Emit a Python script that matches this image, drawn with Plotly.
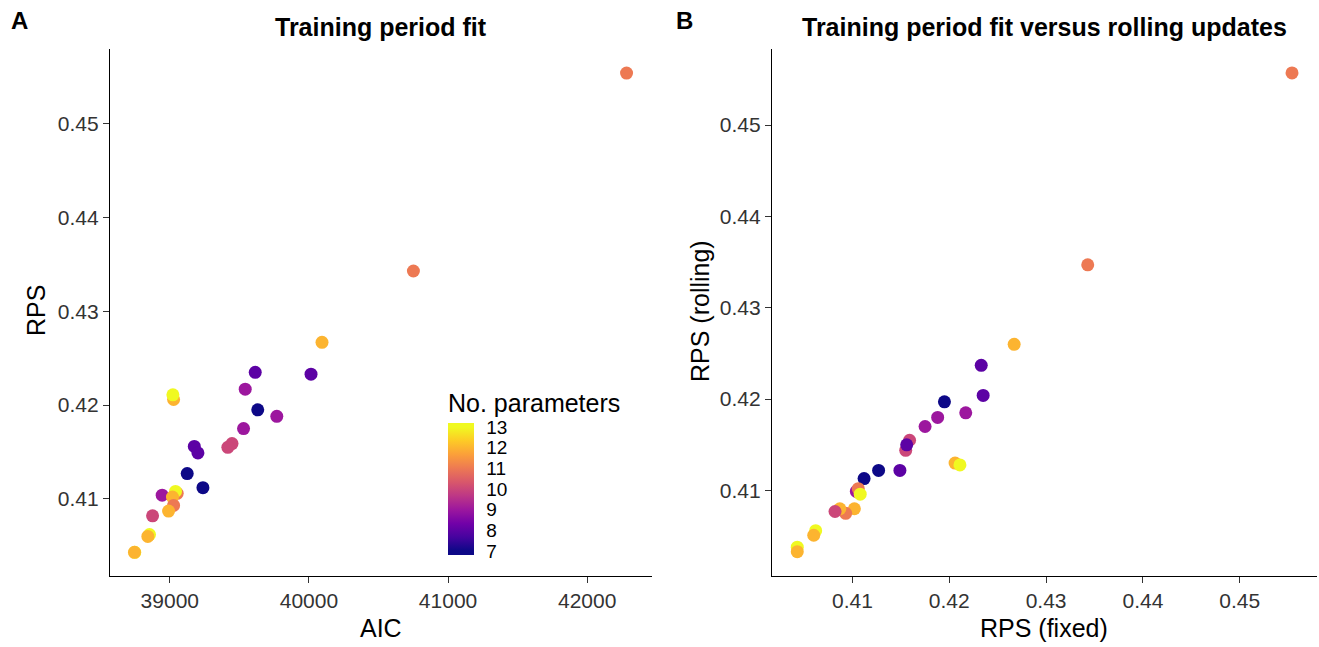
import plotly.graph_objects as go
import plotly.express as px

# Model results (one entry per model)
n_params = [11, 11, 12, 8, 8, 9, 7, 9, 9, 10, 10, 8, 8, 7, 7, 12, 13,
            9, 11, 13, 12, 11, 12, 10, 13, 12, 13, 12]
aic = [42283, 40751, 40094, 40015, 39614, 39542, 39632, 39769, 39530, 39447,
       39417, 39176, 39202, 39125, 39238, 39027, 39022,
       38945, 39053, 39041, 39019, 39027, 38991, 38876, 38854, 38842, 38748, 38746]
rps_fixed = [0.4554, 0.4343, 0.4267, 0.4233, 0.4235, 0.4217, 0.4195, 0.4188,
             0.4175, 0.4159, 0.4155, 0.4156, 0.4149, 0.4127, 0.4112, 0.4206,
             0.4211, 0.4104, 0.4106, 0.4108, 0.4102, 0.4093, 0.4087, 0.4082,
             0.4062, 0.4060, 0.4043, 0.4043]
rps_rolling = [0.4557, 0.4347, 0.4260, 0.4237, 0.4204, 0.4185, 0.4197, 0.4180,
               0.4170, 0.4155, 0.4144, 0.4150, 0.4122, 0.4122, 0.4113, 0.4130,
               0.4128, 0.4099, 0.4102, 0.4096, 0.4080, 0.4075, 0.4080, 0.4077,
               0.4056, 0.4051, 0.4038, 0.4033]

cb_ticks = [7, 8, 9, 10, 11, 12, 13]

FONT = "Liberation Sans, Arial, sans-serif"
W, H = 1319, 647

# plasma mapped onto 7..13, with the colour bar reaching slightly beyond
P_LO, P_HI = 7, 13
C_MIN, C_MAX = 6.8, 13.2
plasma = px.colors.sequential.Plasma
span = C_MAX - C_MIN
a = (P_LO - C_MIN) / span
b = (P_HI - C_MIN) / span
cscale = [[0.0, plasma[0]]]
for i, c in enumerate(plasma):
    cscale.append([a + (b - a) * i / (len(plasma) - 1), c])
cscale.append([1.0, plasma[-1]])

fig = go.Figure()

marker_common = dict(size=13, color=n_params, colorscale=cscale,
                     cmin=C_MIN, cmax=C_MAX, line=dict(width=0), opacity=1)

fig.add_trace(go.Scatter(
    x=aic, y=rps_fixed, mode="markers", xaxis="x", yaxis="y",
    marker=dict(**marker_common, showscale=True,
                colorbar=dict(
                    title=dict(text="No. parameters", side="top",
                               font=dict(size=25, color="black", family=FONT)),
                    tickvals=cb_ticks, ticktext=[str(t) for t in cb_ticks],
                    tickfont=dict(size=19, color="black", family=FONT),
                    ticks="outside", tickcolor="white", ticklen=9,
                    thickness=26, thicknessmode="pixels",
                    len=165, lenmode="pixels",
                    x=448 / W, xanchor="left",
                    y=1 - 555 / H, yanchor="bottom", ypad=0, xpad=0,
                    outlinewidth=0)),
    showlegend=False, hoverinfo="skip"))

fig.add_trace(go.Scatter(
    x=rps_fixed, y=rps_rolling, mode="markers", xaxis="x2", yaxis="y2",
    marker=dict(**marker_common, showscale=False),
    showlegend=False, hoverinfo="skip"))

ax_common = dict(showgrid=False, zeroline=False, showline=True,
                 linecolor="black", linewidth=1.3, ticks="outside",
                 ticklen=6, tickcolor="#333333", tickwidth=1.2,
                 tickfont=dict(size=21, color="#333333", family=FONT))

y_dom = [1 - 576 / H, 1 - 49 / H]

fig.update_layout(
    width=W, height=H,
    margin=dict(l=0, r=0, t=0, b=0),
    plot_bgcolor="white", paper_bgcolor="white",
    font=dict(family=FONT),
    xaxis=dict(domain=[110 / W, 652 / W], range=[38570, 42466],
               tickvals=[39000, 40000, 41000, 42000], tickformat="d",
               anchor="y", **ax_common),
    yaxis=dict(domain=y_dom, range=[0.40178, 0.45797],
               tickvals=[0.41, 0.42, 0.43, 0.44, 0.45], tickformat=".2f",
               anchor="x", **ax_common),
    xaxis2=dict(domain=[772 / W, 1317 / W], range=[0.40169, 0.45798],
                tickvals=[0.41, 0.42, 0.43, 0.44, 0.45], tickformat=".2f",
                anchor="y2", **ax_common),
    yaxis2=dict(domain=y_dom, range=[0.40064, 0.45832],
                tickvals=[0.41, 0.42, 0.43, 0.44, 0.45], tickformat=".2f",
                anchor="x2", **ax_common),
)

ann = []
def add_text(text, x, y, size, bold=False, angle=0, color="black"):
    ann.append(dict(text=f"<b>{text}</b>" if bold else text, x=x / W, y=1 - y / H,
                    xref="paper", yref="paper", showarrow=False,
                    xanchor="center", yanchor="middle", textangle=angle,
                    font=dict(size=size, color=color, family=FONT)))

add_text("A", 19, 20, 24, bold=True)
add_text("B", 684, 20, 24, bold=True)
add_text("Training period fit", 381, 27, 25, bold=True)
add_text("Training period fit versus rolling updates", 1044, 27, 25, bold=True)
add_text("AIC", 381, 628, 25)
add_text("RPS (fixed)", 1044, 628, 25)
add_text("RPS", 36, 311, 25, angle=-90)
add_text("RPS (rolling)", 700, 311, 25, angle=-90)

fig.update_layout(annotations=ann)

fig.write_html("out.html", config={"displayModeBar": False},
               post_script="document.body.style.margin='0';document.body.style.overflow='hidden';")
